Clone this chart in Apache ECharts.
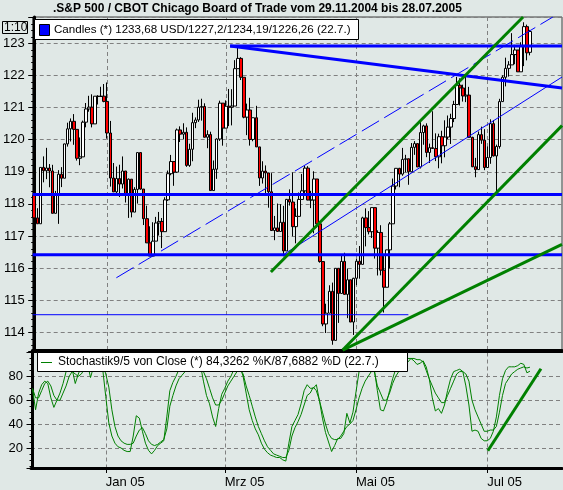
<!DOCTYPE html>
<html>
<head>
<meta charset="utf-8">
<script src="https://cdn.jsdelivr.net/npm/echarts@6/dist/echarts.min.js"></script>
<style>
  html, body { margin: 0; padding: 0; background: #e0e8e6; }
  #chart { width: 563px; height: 490px; }
</style>
</head>
<body>
<div id="chart"></div>
<script>
// S&P 500 daily candles 29.11.2004 - 22.07.2005 (index points, plotted 1:10)
var opens = [
  1182.65, 1175.65,
  1173.82, 1191.37, 1190.33, 1191.17, 1190.25, 1177.07, 1182.81, 1189.24, 1188.00, 1198.68, 1203.38, 1205.72, 1203.21, 1194.20, 1194.65, 1205.45, 1209.57, 1210.13, 1204.92, 1213.54, 1213.45, 1213.55,
  1211.92, 1202.08, 1188.05, 1183.74, 1187.89, 1186.19, 1190.25, 1182.99, 1187.70, 1177.45, 1184.52, 1195.98, 1184.63, 1175.41, 1167.87, 1163.75, 1168.41, 1174.07, 1174.55, 1171.36,
  1181.27, 1189.41, 1193.19, 1189.89, 1203.03, 1201.72, 1202.30, 1191.99, 1197.01, 1205.30, 1206.14, 1210.12, 1210.34, 1200.75, 1201.59, 1184.16, 1190.80, 1200.20, 1211.37,
  1203.60, 1210.41, 1210.08, 1210.47, 1222.12, 1225.31, 1219.43, 1207.01, 1209.25, 1200.08, 1206.83, 1197.75, 1188.07, 1190.21, 1189.65, 1183.78, 1171.71, 1172.53, 1171.42, 1174.28, 1165.36, 1181.41,
  1180.59, 1172.92, 1176.12, 1181.39, 1184.07, 1191.14, 1181.20, 1181.21, 1187.76, 1173.79, 1162.05, 1142.62, 1145.98, 1152.78, 1137.50, 1159.95, 1152.12, 1162.10, 1151.83, 1156.38, 1143.22,
  1156.85, 1162.16, 1161.17, 1175.65, 1172.63, 1171.35, 1178.84, 1166.22, 1171.11, 1159.36, 1154.05, 1165.69, 1173.80, 1185.56, 1191.08, 1189.28, 1193.86, 1194.07, 1190.01, 1197.62, 1198.78,
  1191.50, 1202.22, 1204.29, 1196.02, 1197.51, 1197.26, 1194.67, 1200.93, 1198.11, 1200.82, 1203.91, 1206.58, 1210.96, 1216.96, 1216.10, 1213.61, 1213.88, 1200.73, 1191.57, 1190.69, 1201.57, 1199.85,
  1191.33, 1194.44, 1204.99, 1194.94, 1197.87, 1211.86, 1219.44, 1222.21, 1223.29, 1226.50, 1227.92, 1221.13, 1229.35, 1235.20, 1227.20
];
var highs = [
  1186.94, 1178.66,
  1191.37, 1194.80, 1197.46, 1192.41, 1192.17, 1184.05, 1190.51, 1191.45, 1198.74, 1205.29, 1206.61, 1207.97, 1203.21, 1200.69, 1205.93, 1211.42, 1213.66, 1214.13, 1213.54, 1213.85, 1216.47, 1217.33,
  1217.80, 1205.84, 1192.73, 1191.63, 1192.20, 1194.78, 1190.25, 1187.92, 1187.70, 1185.21, 1195.98, 1195.98, 1184.63, 1179.45, 1173.03, 1174.30, 1175.96, 1177.50, 1175.61, 1182.07,
  1190.39, 1195.25, 1193.19, 1203.47, 1204.15, 1205.11, 1203.83, 1198.75, 1208.38, 1206.93, 1212.44, 1212.75, 1211.33, 1202.92, 1202.48, 1193.52, 1200.42, 1212.15, 1211.37,
  1212.25, 1215.79, 1215.72, 1224.76, 1229.11, 1225.69, 1219.43, 1211.23, 1213.04, 1206.83, 1210.54, 1197.75, 1193.28, 1191.98, 1189.65, 1189.59, 1176.26, 1180.11, 1179.91, 1179.39, 1181.54, 1184.53,
  1189.80, 1178.61, 1183.56, 1189.34, 1191.88, 1191.75, 1184.07, 1190.17, 1187.76, 1174.67, 1162.05, 1148.92, 1154.67, 1155.50, 1159.95, 1159.95, 1164.05, 1164.80, 1159.87, 1156.38, 1156.97,
  1162.87, 1166.89, 1176.01, 1178.62, 1177.75, 1178.87, 1178.84, 1171.77, 1173.37, 1163.75, 1165.75, 1174.35, 1187.90, 1191.09, 1191.22, 1197.44, 1195.29, 1194.07, 1198.95, 1199.56, 1198.78,
  1205.64, 1204.67, 1205.09, 1198.78, 1208.85, 1201.97, 1201.86, 1202.79, 1206.03, 1207.53, 1208.08, 1212.10, 1219.55, 1219.10, 1217.13, 1219.59, 1216.45, 1200.90, 1194.33, 1202.54, 1204.07, 1203.27,
  1197.89, 1206.34, 1206.11, 1198.46, 1212.73, 1220.03, 1225.54, 1224.46, 1233.16, 1229.53, 1227.92, 1230.34, 1236.56, 1235.83, 1234.19
];
var lows = [
  1172.37, 1173.81,
  1173.82, 1186.72, 1187.71, 1185.18, 1177.07, 1177.07, 1173.79, 1185.24, 1188.00, 1197.84, 1199.44, 1198.41, 1193.49, 1192.05, 1194.65, 1203.85, 1208.71, 1203.83, 1204.92, 1210.95, 1213.41, 1211.65,
  1200.32, 1185.39, 1183.72, 1183.27, 1182.16, 1184.80, 1180.43, 1175.64, 1175.81, 1177.45, 1180.10, 1184.41, 1173.42, 1167.82, 1163.75, 1163.75, 1168.41, 1170.15, 1166.25, 1171.36,
  1180.95, 1188.92, 1185.64, 1189.67, 1199.27, 1200.16, 1191.54, 1191.54, 1193.28, 1203.59, 1205.52, 1205.93, 1200.74, 1197.35, 1184.16, 1184.16, 1187.80, 1199.61, 1198.13,
  1203.60, 1204.22, 1204.45, 1210.47, 1222.12, 1218.57, 1206.66, 1201.41, 1198.15, 1199.51, 1197.75, 1185.61, 1186.34, 1182.78, 1178.82, 1171.63, 1168.70, 1171.42, 1171.42, 1163.69, 1165.36, 1179.49,
  1169.91, 1167.72, 1176.12, 1181.39, 1183.41, 1181.13, 1178.69, 1170.85, 1172.64, 1161.70, 1141.92, 1139.80, 1145.98, 1136.15, 1137.50, 1142.95, 1152.12, 1151.83, 1144.42, 1143.22, 1139.19,
  1154.71, 1156.71, 1161.17, 1166.77, 1170.50, 1169.38, 1162.98, 1157.71, 1157.76, 1146.18, 1154.05, 1159.86, 1173.80, 1184.49, 1185.19, 1188.76, 1189.87, 1185.96, 1190.01, 1195.28, 1191.50,
  1191.03, 1198.42, 1194.55, 1192.75, 1197.26, 1193.33, 1191.09, 1192.64, 1194.51, 1200.18, 1198.66, 1205.47, 1210.96, 1210.65, 1211.86, 1211.69, 1200.72, 1191.45, 1188.30, 1190.69, 1198.70, 1190.51,
  1191.33, 1192.49, 1194.78, 1183.55, 1197.20, 1211.86, 1216.60, 1219.64, 1223.29, 1223.50, 1221.13, 1221.13, 1222.91, 1224.70, 1226.26
];
var closes = [
  1175.65, 1173.82,
  1191.37, 1190.33, 1191.17, 1190.25, 1177.07, 1182.81, 1189.24, 1188.00, 1198.68, 1203.38, 1205.72, 1203.21, 1194.20, 1194.65, 1205.45, 1209.57, 1210.13, 1204.92, 1213.54, 1213.45, 1213.55, 1211.92,
  1202.08, 1188.05, 1183.74, 1187.89, 1186.19, 1190.25, 1182.99, 1187.70, 1177.45, 1184.52, 1195.98, 1184.63, 1175.41, 1167.87, 1163.75, 1168.41, 1174.07, 1174.55, 1171.36, 1181.27,
  1189.41, 1193.19, 1189.89, 1203.03, 1201.72, 1202.30, 1191.99, 1197.01, 1205.30, 1206.14, 1210.12, 1210.34, 1200.75, 1201.59, 1184.16, 1190.80, 1200.20, 1211.37, 1203.60,
  1210.41, 1210.08, 1210.47, 1222.12, 1225.31, 1219.43, 1207.01, 1209.25, 1200.08, 1206.83, 1197.75, 1188.07, 1190.21, 1189.65, 1183.78, 1171.71, 1172.53, 1171.42, 1174.28, 1165.36, 1181.41, 1180.59,
  1172.92, 1176.12, 1181.39, 1184.07, 1191.14, 1181.20, 1181.21, 1187.76, 1173.79, 1162.05, 1142.62, 1145.98, 1152.78, 1137.50, 1159.95, 1152.12, 1162.10, 1151.83, 1156.38, 1143.22, 1156.85,
  1162.16, 1161.17, 1175.65, 1172.63, 1171.35, 1178.84, 1166.22, 1171.11, 1159.36, 1154.05, 1165.69, 1173.80, 1185.56, 1191.08, 1189.28, 1193.86, 1194.07, 1190.01, 1197.62, 1198.78, 1191.50,
  1202.22, 1204.29, 1196.02, 1197.51, 1197.26, 1194.67, 1200.93, 1198.11, 1200.82, 1203.91, 1206.58, 1210.96, 1216.96, 1216.10, 1213.61, 1213.88, 1200.73, 1191.57, 1190.69, 1201.57, 1199.85, 1191.33,
  1194.44, 1204.99, 1194.94, 1197.87, 1211.86, 1219.44, 1222.21, 1223.29, 1226.50, 1227.92, 1221.13, 1229.35, 1235.20, 1227.04, 1233.68
];

// Stochastik 9/5: %K and %D
var stochK = [
  69, 52, 66, 73, 76, 74, 62, 54, 60, 66,
  74, 84, 88, 86, 74, 82, 88, 90, 91, 79,
  88, 90, 92, 86, 63, 41, 30, 24, 21, 20,
  18, 17, 17, 30, 47, 45, 34, 24, 18, 15,
  18, 22, 24, 26, 46, 68, 75, 80, 86, 88,
  84, 86, 92, 94, 95, 90, 76, 64, 57, 46,
  38, 53, 65, 70, 76, 80, 86, 92, 88, 80,
  66, 52, 43, 36, 31, 24, 19, 16, 14, 13,
  12, 12, 10, 9, 24, 38, 43, 48, 57, 68,
  73, 70, 70, 73, 60, 45, 33, 25, 17, 22,
  28, 28, 32, 49, 41, 50, 67, 84, 88, 90,
  90, 92, 86, 68, 52, 51, 58, 68, 78, 86,
  90, 92, 94, 95, 95, 93, 90, 91, 93, 88,
  78, 62, 51, 53, 49, 56, 68, 78, 84, 85,
  86, 84, 72, 56, 34, 35, 34, 28, 26, 26,
  28, 34, 46, 64, 78, 85, 88, 88, 88, 89,
  91, 90, 83, 84.33
];
var stochD = [
  70, 62, 62, 68, 74, 76, 72, 64, 60, 60,
  66, 72, 80, 84, 82, 80, 82, 86, 88, 86,
  86, 88, 90, 90, 82, 71, 52, 38, 30, 26,
  24, 23, 23, 24, 30, 35, 37, 32, 26, 23,
  22, 23, 25, 27, 36, 55, 64, 72, 78, 81,
  84, 86, 86, 88, 90, 90, 84, 78, 70, 62,
  56, 56, 60, 66, 72, 76, 80, 84, 86, 82,
  72, 64, 55, 46, 38, 32, 26, 21, 18, 15,
  14, 13, 12, 12, 18, 30, 37, 42, 48, 56,
  64, 66, 71, 68, 60, 50, 40, 32, 28, 27,
  27, 30, 34, 38, 40, 43, 52, 62, 70, 76,
  80, 84, 84, 72, 66, 60, 60, 66, 74, 80,
  84, 88, 90, 92, 95, 95, 94, 94, 92, 85,
  78, 72, 66, 62, 58, 58, 64, 70, 76, 82,
  84, 84, 82, 76, 60, 52, 46, 40, 34, 34,
  35, 35, 38, 50, 64, 74, 78, 82, 84, 86,
  87, 88, 87, 87.69
];

// drawn trend lines: [dayFrom, valueFrom, dayTo, valueTo] (day = trading-day slot)
var blueThick = [[64.4, 122.92, 173.5, 122.92], [64.4, 122.92, 173.5, 121.61], [-0.5, 118.29, 173.5, 118.29], [-0.5, 116.42, 173.5, 116.42]];
var blueThin = [[-0.5, 114.55, 123.0, 114.55], [82.4, 116.45, 173.5, 121.95]];
var blueDashed = [[27.0, 115.7, 170.5, 123.82]];
var greenMain = [[77.8, 115.88, 160.7, 123.82], [101.4, 113.45, 173.5, 120.44], [101.4, 113.45, 173.5, 116.74]];
var greenStoch = [[149.2, 17.7, 166.6, 86.4]];

var holidays = ['2004-12-24', '2005-01-17', '2005-02-21', '2005-03-25', '2005-05-30', '2005-07-04'];
var monthNames = ['Jan', 'Feb', 'Mrz', 'Apr', 'Mai', 'Jun', 'Jul', 'Aug', 'Sep', 'Okt', 'Nov', 'Dez'];
var SLOTS = 174;
var SCALE = 10;
var FONT = 'Liberation Sans, Arial, sans-serif';

function tradingDays(start, n) {
  var out = [];
  var d = new Date(start + 'T12:00:00Z');
  while (out.length < n) {
    var wd = d.getUTCDay();
    var s = d.toISOString().slice(0, 10);
    if (wd !== 0 && wd !== 6 && holidays.indexOf(s) < 0) out.push(s);
    d.setUTCDate(d.getUTCDate() + 1);
  }
  return out;
}
var days = tradingDays('2004-11-29', SLOTS);

// gridlines at first trading day of Jan, Mar, May, Jul
function isMark(i) {
  if (i === 0) return false;
  var m = days[i].slice(5, 7);
  return m !== days[i - 1].slice(5, 7) && ['01', '03', '05', '07'].indexOf(m) >= 0;
}
function markFn(index) { return isMark(index); }

var candles = opens.map(function (o, i) {
  return [o / SCALE, closes[i] / SCALE, lows[i] / SCALE, highs[i] / SCALE];
});

function segs(list, xIdx, yIdx, style) {
  return list.map(function (s) {
    return {
      type: 'line', xAxisIndex: xIdx, yAxisIndex: yIdx,
      data: [[s[0], s[1]], [s[2], s[3]]],
      symbol: 'none', silent: true, z: 5, clip: true,
      lineStyle: style
    };
  });
}

var gridLine = { show: true, interval: markFn, alignWithLabel: true, lineStyle: { color: '#808080', width: 1, type: [4, 3] } };
var ySplit = { show: true, lineStyle: { color: '#808080', width: 1, type: [4, 3] } };

var chart = echarts.init(document.getElementById('chart'));
chart.setOption({
  backgroundColor: '#e0e8e6',
  animation: false,
  grid: [
    { left: 31, top: 17, width: 531, height: 334, show: true, borderColor: '#404040', borderWidth: 1, backgroundColor: 'transparent' },
    { left: 31, top: 352.5, width: 531, height: 115.5 }
  ],
  xAxis: [
    {
      gridIndex: 0, type: 'category', data: days, boundaryGap: true,
      axisLine: { show: true, onZero: false, lineStyle: { color: '#000', width: 4 } },
      axisTick: { show: false }, axisLabel: { show: false },
      splitLine: gridLine
    },
    {
      gridIndex: 1, type: 'category', data: days, boundaryGap: true,
      axisLine: { show: true, onZero: false, lineStyle: { color: '#000', width: 3 } },
      axisTick: { show: true, interval: markFn, alignWithLabel: true, length: 5, lineStyle: { color: '#000' } },
      axisLabel: {
        show: true, interval: markFn, align: 'left', margin: 8,
        color: '#000', fontSize: 13, fontFamily: FONT,
        formatter: function (v) { return monthNames[+v.slice(5, 7) - 1] + ' ' + v.slice(2, 4); }
      },
      splitLine: gridLine
    },
    { gridIndex: 0, type: 'value', min: -0.5, max: SLOTS - 0.5, show: false },
    { gridIndex: 1, type: 'value', min: -0.5, max: SLOTS - 0.5, show: false }
  ],
  yAxis: [
    {
      gridIndex: 0, type: 'value', min: 113.42, max: 123.82, splitNumber: 10,
      axisLine: { show: true, lineStyle: { color: '#000', width: 3 } },
      axisTick: { show: true, length: 6, lineStyle: { color: '#000' } },
      minorTick: { show: true, splitNumber: 5, length: 3, lineStyle: { color: '#000' } },
      axisLabel: { color: '#000', fontSize: 13, fontFamily: FONT, margin: 8, showMinLabel: false, showMaxLabel: false },
      splitLine: ySplit
    },
    {
      gridIndex: 1, type: 'value', min: 3.2, max: 100, splitNumber: 5,
      axisLine: { show: true, lineStyle: { color: '#000', width: 3 } },
      axisTick: { show: true, length: 6, lineStyle: { color: '#000' } },
      minorTick: { show: true, splitNumber: 4, length: 3, lineStyle: { color: '#000' } },
      axisLabel: { color: '#000', fontSize: 13, fontFamily: FONT, margin: 8, showMinLabel: false, showMaxLabel: false },
      splitLine: ySplit
    }
  ],
  series: [
    {
      type: 'candlestick', xAxisIndex: 0, yAxisIndex: 0, data: candles, barWidth: 3,
      itemStyle: { color: '#ffffff', color0: '#ff0000', borderColor: '#000', borderColor0: '#000', borderWidth: 1 }
    },
    { type: 'line', xAxisIndex: 1, yAxisIndex: 1, data: stochK, symbol: 'none', lineStyle: { color: '#008000', width: 1 } },
    { type: 'line', xAxisIndex: 1, yAxisIndex: 1, data: stochD, symbol: 'none', lineStyle: { color: '#008000', width: 1 } }
  ]
    .concat(segs(blueThick, 2, 0, { color: '#0000ff', width: 3 }))
    .concat(segs(blueThin, 2, 0, { color: '#0000ff', width: 1 }))
    .concat(segs(blueDashed, 2, 0, { color: '#0000ff', width: 1, type: [20, 6] }))
    .concat(segs(greenMain, 2, 0, { color: '#008000', width: 3 }))
    .concat(segs(greenStoch, 3, 1, { color: '#008000', width: 3 })),
  graphic: [
    { type: 'text', x: 53, y: 9, z: 100, style: { text: '.S&P 500 / CBOT Chicago Board of Trade vom 29.11.2004 bis 28.07.2005', font: 'bold 12px ' + FONT, fill: '#000', textVerticalAlign: 'middle' } },
    { type: 'rect', z: 100, shape: { x: 2.5, y: 21.5, width: 25, height: 12 }, style: { fill: 'none', stroke: '#000', lineWidth: 1 } },
    { type: 'text', x: 4, y: 28, z: 100, style: { text: '1:10', font: '12px ' + FONT, fill: '#000', textVerticalAlign: 'middle' } },
    { type: 'rect', z: 100, shape: { x: 34.5, y: 19.5, width: 324, height: 20 }, style: { fill: '#fff', stroke: '#000', lineWidth: 1 } },
    { type: 'rect', z: 101, shape: { x: 39.5, y: 24.5, width: 10, height: 11 }, style: { fill: '#0000ff', stroke: '#000', lineWidth: 1 } },
    { type: 'text', x: 54, y: 30, z: 101, style: { text: 'Candles (*) 1233,68 USD/1227,2/1234,19/1226,26 (22.7.)', font: '11.6px ' + FONT, fill: '#000', textVerticalAlign: 'middle' } },
    { type: 'rect', z: 100, shape: { x: 37.5, y: 352.5, width: 370, height: 19 }, style: { fill: '#fff', stroke: '#000', lineWidth: 1 } },
    { type: 'line', z: 101, shape: { x1: 41, y1: 362.5, x2: 52, y2: 362.5 }, style: { stroke: '#008000', lineWidth: 1 } },
    { type: 'text', x: 58, y: 362, z: 101, style: { text: 'Stochastik9/5 von Close (*) 84,3262 %K/87,6882 %D (22.7.)', font: '12px ' + FONT, fill: '#000', textVerticalAlign: 'middle' } }
  ]
});
</script>
</body>
</html>
